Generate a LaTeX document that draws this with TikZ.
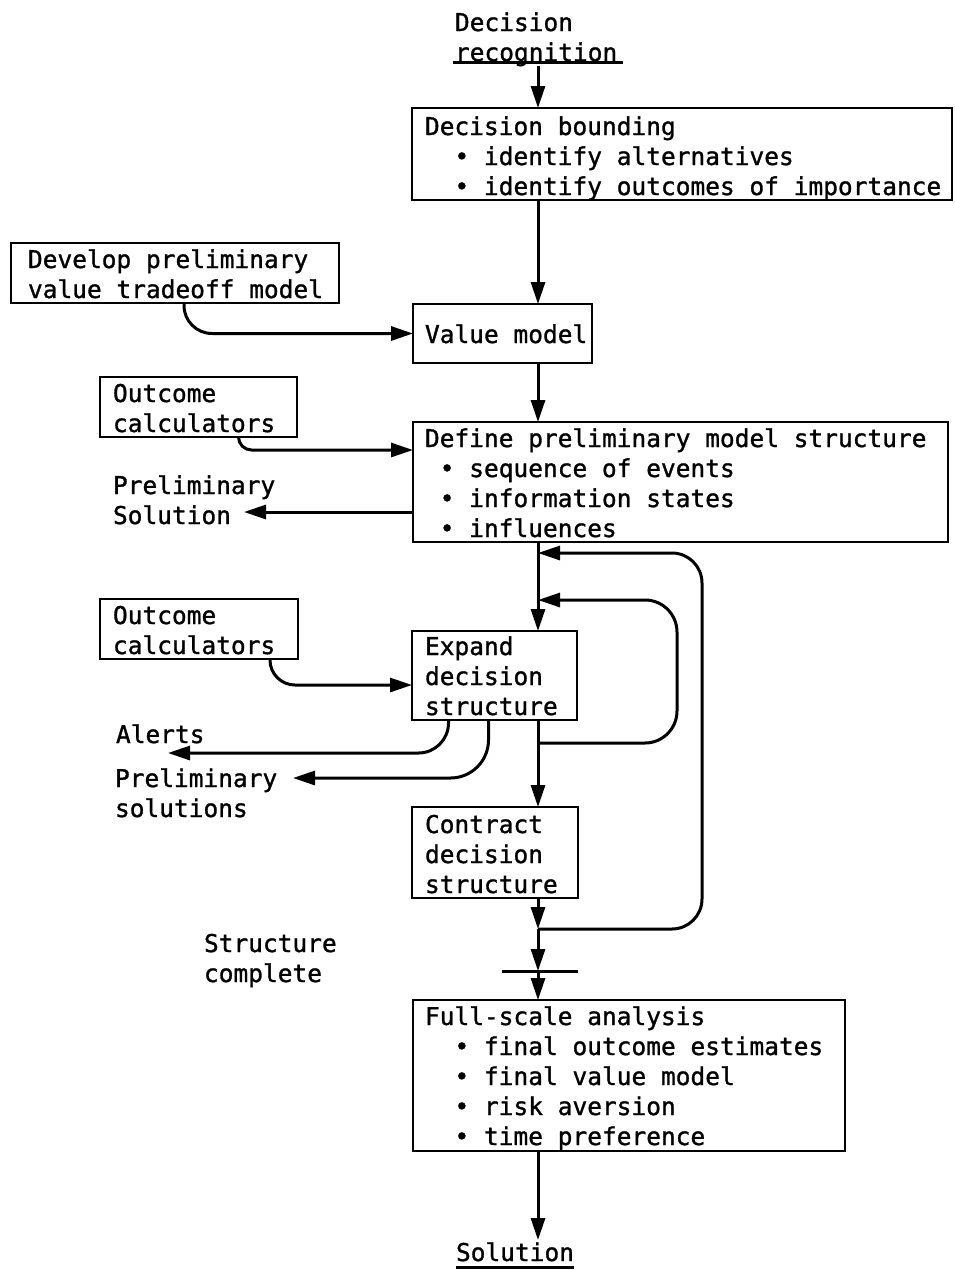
\documentclass[tikz,border=0pt]{standalone}
\usepackage{fontspec}
\newfontfamily\tfont[FakeBold=1.2]{DejaVu Sans Mono}
\usetikzlibrary{arrows.meta,calc}
\begin{document}
\begin{tikzpicture}[x=1pt,y=-1pt,
  box/.style={draw, line width=2.6pt, anchor=north west, inner sep=0pt, outer sep=0pt},
  txt/.style={anchor=north west, inner sep=0pt, outer sep=0pt, align=left,
              font={\tfont\fontsize{24.5pt}{30pt}\selectfont}},
  conn/.style={line width=3pt},
  arr/.style={conn, -{Triangle[length=22pt,width=14pt]}},
]
\useasboundingbox (0,0) rectangle (955,1270);

% boxes
\node[box, minimum width=540pt, minimum height=92pt]  (bound)    at (412,108)  {};
\node[box, minimum width=328pt, minimum height=60pt]  (develop)  at (11,243)   {};
\node[box, minimum width=179pt, minimum height=59pt]  (value)    at (413,304)  {};
\node[box, minimum width=197pt, minimum height=60pt]  (out1)     at (100,377)  {};
\node[box, minimum width=535pt, minimum height=120pt] (define)   at (413,422)  {};
\node[box, minimum width=198pt, minimum height=60pt]  (out2)     at (100,599)  {};
\node[box, minimum width=165pt, minimum height=89pt]  (expand)   at (412,631)  {};
\node[box, minimum width=166pt, minimum height=91pt]  (contract) at (412,807)  {};
\node[box, minimum width=432pt, minimum height=151pt] (full)     at (413,1000) {};

% texts
\node[txt] (rect)  at (455,10)   {\strut Decision\\recognition};
\node[txt] (boundt) at (425,114) {\strut Decision bounding\\\hphantom{mm}• identify alternatives\\\hphantom{mm}• identify outcomes of importance};
\node[txt] (devt)  at (28,247)   {\strut Develop preliminary\\value tradeoff model};
\node[txt] (valt)  at (425,322)  {\strut Value model};
\node[txt] (out1t) at (113,381)  {\strut Outcome\\calculators};
\node[txt] (deft)  at (425,426)  {\strut Define preliminary model structure\\\hphantom{m}• sequence of events\\\hphantom{m}• information states\\\hphantom{m}• influences};
\node[txt] (pst)   at (113,473)  {\strut Preliminary\\Solution};
\node[txt] (out2t) at (113,603)  {\strut Outcome\\calculators};
\node[txt] (expt)  at (425,634)  {\strut Expand\\decision\\structure};
\node[txt] (alt)   at (116,722)  {\strut Alerts};
\node[txt] (pss)   at (115,766)  {\strut Preliminary\\solutions};
\node[txt] (cont)  at (425,812)  {\strut Contract\\decision\\structure};
\node[txt] (sct)   at (204,931)  {\strut Structure\\complete};
\node[txt] (fullt) at (425,1004) {\strut Full-scale analysis\\\hphantom{mm}• final outcome estimates\\\hphantom{mm}• final value model\\\hphantom{mm}• risk aversion\\\hphantom{mm}• time preference};
\node[txt] (sol)   at (456,1240) {\strut Solution};

% underlines
\draw[conn] ([xshift=-2pt,yshift=4pt]rect.south west) -- ([xshift=6pt,yshift=4pt]rect.south east);
\draw[conn] ([yshift=3pt]sol.south west) -- ([yshift=3pt]sol.south east);

% coordinates
\coordinate (spine) at (538,0);
\coordinate (recu)  at (538,66);
\coordinate (in1)   at (538,553);
\coordinate (in2)   at (538,600);
\coordinate (j2)    at (538,743);
\coordinate (j1)    at (538,929);
\coordinate (barc)  at (538,971);
\coordinate (psend) at (244,512);
\coordinate (alend) at (168,753);
\coordinate (psend2) at (293,778);

% spine
\draw[arr] (recu) -- (bound.north -| spine);
\draw[arr] (bound.south -| spine) -- (value.north -| spine);
\draw[arr] (value.south -| spine) -- (define.north -| spine);
\draw[arr] (define.south -| spine) -- (expand.north -| spine);
\draw[arr] (expand.south -| spine) -- (contract.north -| spine);
\draw[arr] (contract.south -| spine) -- (j1);
\draw[arr] (j1) -- (barc);
\draw[arr] (barc) -- (full.north -| spine);
\draw[arr] (full.south -| spine) -- (sol.north -| spine);
\draw[conn] ([xshift=-36pt]barc) -- ([xshift=40pt]barc);

% loops
\draw[arr, rounded corners=30pt] (j1) -- (702,929) -- (702,553) -- (in1);
\draw[arr, rounded corners=32pt] (j2) -- (677,743) -- (677,600) -- (in2);

% side connectors
\draw[arr, rounded corners=28pt] ([xshift=9pt]develop.south) |- (value.west);
\draw[arr, rounded corners=13pt] ([xshift=40pt]out1.south) |- ([yshift=-28pt]define.north west);
\draw[arr, rounded corners=25pt] ([xshift=71pt]out2.south) |- ([yshift=-54pt]expand.north west);
\draw[arr] ([yshift=-90pt]define.north west) -- (psend);
\draw[arr, rounded corners=30pt] ([xshift=-46pt]expand.south) |- (alend);
\draw[arr, rounded corners=38pt] ([xshift=-6pt]expand.south) |- (psend2);
\end{tikzpicture}
\end{document}
